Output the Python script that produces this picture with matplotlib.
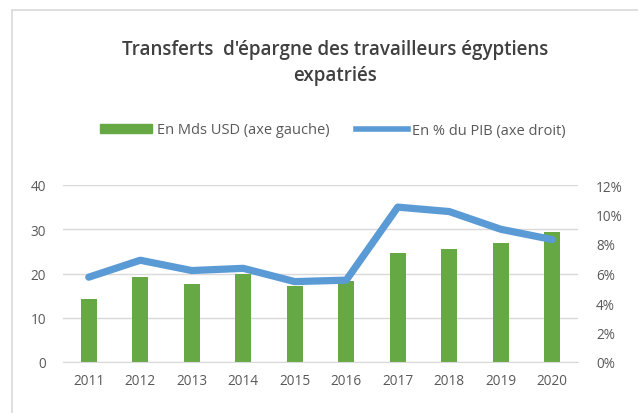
import matplotlib
matplotlib.use("Agg")
import matplotlib.pyplot as plt
from matplotlib.patches import Rectangle
from matplotlib.lines import Line2D
from matplotlib.ticker import FuncFormatter

# ---------------------------------------------------------------------------
# Data
# ---------------------------------------------------------------------------
years = ["2011", "2012", "2013", "2014", "2015", "2016", "2017", "2018", "2019", "2020"]
mds_usd = [14.2, 19.1, 17.6, 19.9, 17.2, 18.4, 24.6, 25.5, 27.0, 29.4]
pct_pib = [5.75, 6.9, 6.2, 6.35, 5.45, 5.55, 10.5, 10.2, 9.0, 8.3]

title = "Transferts  d'épargne des travailleurs égyptiens\nexpatriés"
label_bars = "En Mds USD (axe gauche)"
label_line = "En % du PIB (axe droit)"

GREEN = "#66a843"
BLUE = "#5b9bd5"
TEXT = "#595959"
GRID = "#d9d9d9"

plt.rcParams["font.family"] = ["Open Sans", "DejaVu Sans"]

W, H = 638, 414
fig = plt.figure(figsize=(W / 100, H / 100), dpi=100)

# chart frame (cropped at right/bottom like the screenshot)
fig.patches.append(Rectangle((12 / W, -0.1), 1.2, 1 - 11 / H + 0.1,
                             transform=fig.transFigure, fill=False,
                             edgecolor=GRID, linewidth=1.2))

ax = fig.add_axes([63 / W, 1 - 363 / H, (578 - 63) / W, (363 - 186) / H])
ax2 = ax.twinx()

x = list(range(len(years)))
ax.bar(x, mds_usd, width=0.31, color=GREEN, zorder=2)
ax.set_ylim(0, 40)
ax.set_yticks([0, 10, 20, 30, 40])
ax.set_xlim(-0.5, len(years) - 0.5)
ax.set_xticks(x)
ax.set_xticklabels(years)
ax.grid(axis="y", color=GRID, linewidth=1, zorder=0)
ax.set_axisbelow(True)

ax2.plot(x, pct_pib, color=BLUE, linewidth=5.2, solid_capstyle="round",
         solid_joinstyle="round", zorder=3)
ax2.set_ylim(0, 12)
ax2.set_yticks(range(0, 13, 2))
ax2.yaxis.set_major_formatter(FuncFormatter(lambda v, _: f"{v:.0f}%"))

for a in (ax, ax2):
    for side in a.spines:
        a.spines[side].set_visible(False)
    a.tick_params(length=0, labelsize=9.8, colors=TEXT)
ax.spines["bottom"].set_visible(True)
ax.spines["bottom"].set_color(GRID)
ax.tick_params(axis="x", pad=8)
ax.tick_params(axis="y", pad=12)
ax2.tick_params(axis="y", pad=13)

fig.text(335 / W, 1 - 63 / H, title, ha="center", va="center",
         fontsize=13.5, fontweight="semibold", color="#404040",
         linespacing=1.35)

handles = [Rectangle((0, 0), 1, 1, color=GREEN),
           Line2D([0], [0], color=BLUE, linewidth=4)]
fig.legend(handles, [label_bars, label_line], loc="center",
           bbox_to_anchor=(333 / W, 1 - 131 / H), ncol=2, frameon=False,
           fontsize=10.5, labelcolor=TEXT, handlelength=3.6, handleheight=0.55,
           handletextpad=0.3, columnspacing=1.8)

fig.savefig("out.png", dpi=100)
